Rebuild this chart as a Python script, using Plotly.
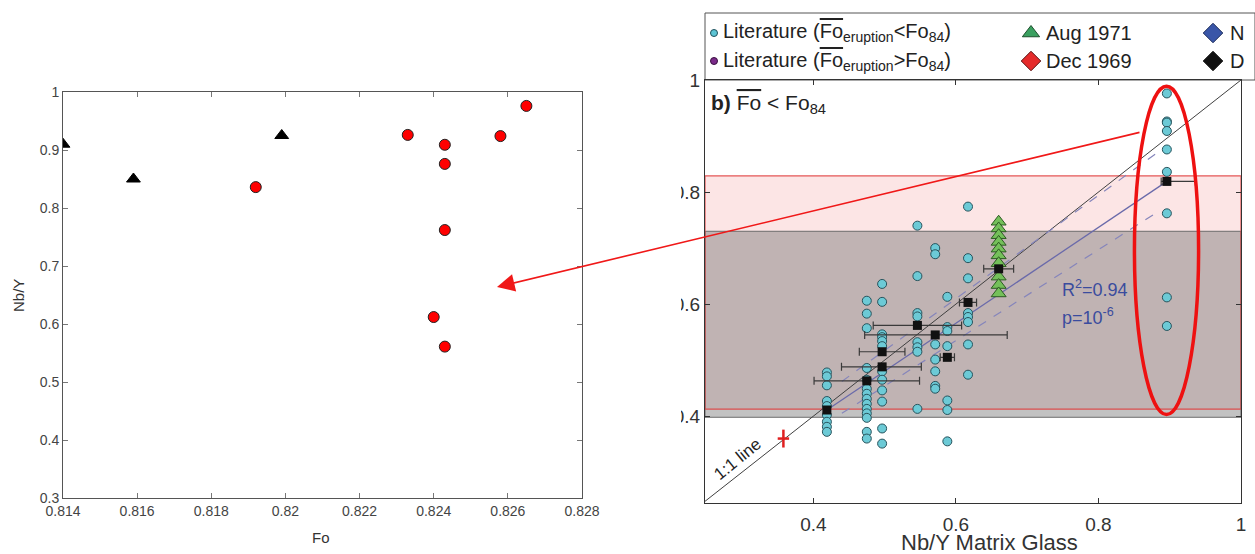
import plotly.graph_objects as go

W, H = 1255, 554
FONT = "Liberation Sans, Arial, sans-serif"

# ---------------- Left panel: Fo vs Nb/Y ----------------
tri_fo = [0.8140, 0.8159, 0.8199]
tri_nby = [0.910, 0.850, 0.925]
circ_fo = [0.8192, 0.8233, 0.8243, 0.8243, 0.8258, 0.8265, 0.8243, 0.8240, 0.8243]
circ_nby = [0.836, 0.926, 0.909, 0.876, 0.924, 0.976, 0.762, 0.612, 0.561]
left_xticks = [0.814, 0.816, 0.818, 0.820, 0.822, 0.824, 0.826, 0.828]
left_xtext = ["0.814", "0.816", "0.818", "0.82", "0.822", "0.824", "0.826", "0.828"]
left_yticks = [0.3, 0.4, 0.5, 0.6, 0.7, 0.8, 0.9, 1.0]
left_ytext = ["0.3", "0.4", "0.5", "0.6", "0.7", "0.8", "0.9", "1"]

# ---------------- Right panel: Nb/Y matrix glass ----------------
col_042 = [0.478, 0.471, 0.455, 0.427, 0.418, 0.402, 0.390, 0.381, 0.372]
col_048 = [0.606, 0.583, 0.557, 0.486, 0.465, 0.449, 0.440, 0.431, 0.422, 0.413, 0.405, 0.397, 0.372, 0.360]
col_050 = [0.636, 0.604, 0.546, 0.541, 0.534, 0.525, 0.480, 0.465, 0.446, 0.426, 0.378, 0.351]
col_055 = [0.740, 0.650, 0.584, 0.578, 0.532, 0.523, 0.515, 0.413]
col_057 = [0.700, 0.689, 0.528, 0.501, 0.480, 0.454, 0.449]
col_059 = [0.613, 0.559, 0.552, 0.525, 0.428, 0.411, 0.355]
col_062 = [0.774, 0.682, 0.646, 0.584, 0.577, 0.568, 0.528, 0.474]
col_090 = [0.976, 0.926, 0.924, 0.909, 0.876, 0.836, 0.762, 0.612, 0.561]
lit_columns = [(0.419, col_042), (0.475, col_048), (0.4965, col_050), (0.546, col_055),
               (0.571, col_057), (0.588, col_059), (0.617, col_062), (0.896, col_090)]
lit_x = [cx for cx, ys in lit_columns for _ in ys]
lit_y = [y for _, ys in lit_columns for y in ys]

aug_x = [0.660] * 10
aug_y = [0.747, 0.735, 0.723, 0.711, 0.699, 0.687, 0.673, 0.649, 0.634, 0.619]

mean_x = [0.419, 0.475, 0.4965, 0.4965, 0.546, 0.571, 0.588, 0.617, 0.660, 0.896]
mean_y = [0.411, 0.463, 0.488, 0.515, 0.562, 0.545, 0.505, 0.603, 0.663, 0.819]
mean_err_plus = [0.0, 0.074, 0.055, 0.032, 0.062, 0.101, 0.010, 0.012, 0.021, 0.040]
mean_err_minus = [0.0, 0.074, 0.057, 0.032, 0.062, 0.099, 0.010, 0.012, 0.021, 0.008]

fit_x = [0.419, 0.896]
fit_y = [0.411, 0.819]
ci_up_x = [0.44, 0.88]
ci_up_y = [0.462, 0.868]
ci_lo_x = [0.44, 0.88]
ci_lo_y = [0.405, 0.762]
one_x = [0.248, 1.0]
one_y = [0.248, 1.0]
cross_x = [0.358]
cross_y = [0.360]
cross_ex = [0.008]
cross_ey = [0.016]
pink_band = [0.4125, 0.829]
gray_band = [0.398, 0.730]
ellipse_c = (0.8955, 0.696)
ellipse_r = (0.045, 0.293)
right_xticks = [0.4, 0.6, 0.8, 1.0]
right_xtext = ["0.4", "0.6", "0.8", "1"]
right_yticks = [0.4, 0.6, 0.8, 1.0]
right_ytext = ["0.4", "0.6", "0.8", "1"]


def pxx(p):
    return p / W


def pxy(p):
    return 1 - p / H


fig = go.Figure()

# left panel traces
fig.add_trace(go.Scatter(x=tri_fo, y=tri_nby, mode="markers", xaxis="x", yaxis="y",
                         marker=dict(symbol="triangle-up", size=12, color="black",
                                     line=dict(color="black", width=1))))
fig.add_trace(go.Scatter(x=circ_fo, y=circ_nby, mode="markers", xaxis="x", yaxis="y",
                         marker=dict(symbol="circle", size=11, color="#ff0000",
                                     line=dict(color="#222", width=1))))

# right panel traces
fig.add_trace(go.Scatter(x=one_x, y=one_y, mode="lines", xaxis="x2", yaxis="y2",
                         line=dict(color="#404040", width=1)))
fig.add_trace(go.Scatter(x=ci_up_x, y=ci_up_y, mode="lines", xaxis="x2", yaxis="y2",
                         line=dict(color="#8585bb", width=1.2, dash="dash")))
fig.add_trace(go.Scatter(x=ci_lo_x, y=ci_lo_y, mode="lines", xaxis="x2", yaxis="y2",
                         line=dict(color="#8585bb", width=1.2, dash="dash")))
fig.add_trace(go.Scatter(x=fit_x, y=fit_y, mode="lines", xaxis="x2", yaxis="y2",
                         line=dict(color="#6a6aaa", width=1.3)))
fig.add_trace(go.Scatter(x=lit_x, y=lit_y, mode="markers", xaxis="x2", yaxis="y2",
                         marker=dict(symbol="circle", size=9, color="#6ccad6",
                                     line=dict(color="#27535c", width=1))))
fig.add_trace(go.Scatter(x=aug_x, y=aug_y, mode="markers", xaxis="x2", yaxis="y2",
                         marker=dict(symbol="triangle-up", size=13, color="#74c05a",
                                     line=dict(color="#2c5a22", width=1))))
fig.add_trace(go.Scatter(x=mean_x, y=mean_y, mode="markers", xaxis="x2", yaxis="y2",
                         marker=dict(symbol="square", size=9, color="#111111"),
                         error_x=dict(type="data", symmetric=False, array=mean_err_plus,
                                      arrayminus=mean_err_minus, color="#3a3a3a",
                                      thickness=1.2, width=4)))
fig.add_trace(go.Scatter(x=cross_x, y=cross_y, mode="markers", xaxis="x2", yaxis="y2",
                         marker=dict(size=1, color="#e02020"),
                         error_x=dict(type="data", array=cross_ex, color="#e02020", thickness=2.5, width=0),
                         error_y=dict(type="data", array=cross_ey, color="#e02020", thickness=2.5, width=0)))

# legend glyphs on a pixel overlay
legend_glyphs = [
    (714, 33, "circle", 7, "#5cc4d4", "#1f4f5a"),
    (714, 61, "circle", 7, "#7a2a8a", "#3a1040"),
    (1031, 33, "triangle-up", 15, "#3aa060", "#1d4f2c"),
    (1031, 61, "diamond", 15, "#e52b2b", "#5a1010"),
    (1213, 33, "diamond", 15, "#3a56a8", "#1a2a5a"),
    (1213, 61, "diamond", 15, "#111111", "#111111"),
]
for gx, gy, sym, sz, fc, lc in legend_glyphs:
    fig.add_trace(go.Scatter(x=[gx], y=[gy], mode="markers", xaxis="x3", yaxis="y3",
                             marker=dict(symbol=sym, size=sz, color=fc, line=dict(color=lc, width=1))))

shapes = [
    dict(type="rect", xref="x2 domain", yref="y2", x0=0, x1=1, y0=pink_band[0], y1=pink_band[1],
         fillcolor="#fce5e5", line=dict(width=0), layer="below"),
    dict(type="rect", xref="x2 domain", yref="y2", x0=0, x1=1, y0=gray_band[0], y1=gray_band[1],
         fillcolor="rgba(110,110,110,0.42)", line=dict(color="#6b6b6b", width=1), layer="below"),
    dict(type="rect", xref="x2 domain", yref="y2", x0=0, x1=1, y0=pink_band[0], y1=pink_band[1],
         fillcolor="rgba(0,0,0,0)", line=dict(color="rgba(225,60,60,0.85)", width=1.2), layer="below"),
    dict(type="circle", xref="x2", yref="y2",
         x0=ellipse_c[0] - ellipse_r[0], x1=ellipse_c[0] + ellipse_r[0],
         y0=ellipse_c[1] - ellipse_r[1], y1=ellipse_c[1] + ellipse_r[1],
         line=dict(color="#ee1111", width=3.5), layer="above"),
    dict(type="rect", xref="paper", yref="paper", x0=pxx(705), x1=1.0, y0=pxy(80), y1=pxy(13),
         line=dict(color="#555555", width=1), fillcolor="white", layer="below"),
    dict(type="rect", xref="paper", yref="paper", x0=pxx(612), x1=pxx(681), y0=pxy(540), y1=pxy(60),
         line=dict(width=0), fillcolor="white", layer="above"),
]

ann = []
tc = "#222222"
LF = 20
ann.append(dict(xref="paper", yref="paper", x=pxx(721), y=pxy(33), xanchor="left", yanchor="middle",
                showarrow=False, font=dict(size=LF, color=tc, family=FONT),
                text="Literature (<span style='text-decoration:overline'>Fo</span><sub>eruption</sub>&lt;Fo<sub>84</sub>)"))
ann.append(dict(xref="paper", yref="paper", x=pxx(721), y=pxy(61), xanchor="left", yanchor="middle",
                showarrow=False, font=dict(size=LF, color=tc, family=FONT),
                text="Literature (<span style='text-decoration:overline'>Fo</span><sub>eruption</sub>&gt;Fo<sub>84</sub>)"))
ann.append(dict(xref="paper", yref="paper", x=pxx(1044), y=pxy(33), xanchor="left", yanchor="middle",
                showarrow=False, font=dict(size=LF, color=tc, family=FONT), text="Aug 1971"))
ann.append(dict(xref="paper", yref="paper", x=pxx(1044), y=pxy(61), xanchor="left", yanchor="middle",
                showarrow=False, font=dict(size=LF, color=tc, family=FONT), text="Dec 1969"))
ann.append(dict(xref="paper", yref="paper", x=pxx(1228), y=pxy(33), xanchor="left", yanchor="middle",
                showarrow=False, font=dict(size=LF, color=tc, family=FONT), text="N"))
ann.append(dict(xref="paper", yref="paper", x=pxx(1228), y=pxy(61), xanchor="left", yanchor="middle",
                showarrow=False, font=dict(size=LF, color=tc, family=FONT), text="D"))
ann.append(dict(xref="paper", yref="paper", x=pxx(709), y=pxy(104), xanchor="left", yanchor="middle",
                showarrow=False, font=dict(size=21, color=tc, family=FONT),
                text="<b>b)</b> <span style='text-decoration:overline'>Fo</span> &lt; Fo<sub>84</sub>"))
ann.append(dict(xref="paper", yref="paper", x=pxx(1060), y=pxy(288), xanchor="left", yanchor="middle",
                showarrow=False, font=dict(size=18, color="#3a4c9e", family=FONT), text="R<sup>2</sup>=0.94"))
ann.append(dict(xref="paper", yref="paper", x=pxx(1060), y=pxy(316), xanchor="left", yanchor="middle",
                showarrow=False, font=dict(size=18, color="#3a4c9e", family=FONT), text="p=10<sup>-6</sup>"))
ann.append(dict(xref="paper", yref="paper", x=pxx(737), y=pxy(459), xanchor="center", yanchor="middle",
                showarrow=False, textangle=-39, font=dict(size=17, color=tc, family=FONT), text="1:1 line"))
ann.append(dict(xref="paper", yref="paper", x=pxx(989), y=pxy(542), xanchor="center", yanchor="middle",
                showarrow=False, font=dict(size=22, color="#333333", family=FONT), text="Nb/Y Matrix Glass"))
ann.append(dict(xref="paper", yref="paper", x=pxx(321), y=pxy(537), xanchor="center", yanchor="middle",
                showarrow=False, font=dict(size=15, color="#333333", family=FONT), text="Fo"))
ann.append(dict(xref="paper", yref="paper", x=pxx(18), y=pxy(296), xanchor="center", yanchor="middle",
                showarrow=False, textangle=-90, font=dict(size=15, color="#333333", family=FONT), text="Nb/Y"))
ann.append(dict(xref="paper", yref="paper", x=pxx(497), y=pxy(287), ax=1141 - 497, ay=132 - 287,
                text="", showarrow=True, arrowhead=2, arrowsize=2.2, arrowwidth=1.6,
                arrowcolor="#f01818", standoff=0))

axis_left = dict(showgrid=False, zeroline=False, showline=True, linecolor="#555555", linewidth=1,
                 mirror="ticks", ticks="inside", ticklen=5, tickcolor="#777777",
                 tickfont=dict(size=14, color="#444444", family=FONT))
axis_right = dict(showgrid=False, zeroline=False, showline=True, linecolor="#333333", linewidth=1,
                  mirror="ticks", ticks="inside", ticklen=5, tickcolor="#333333",
                  tickfont=dict(size=19, color="#333333", family=FONT))

fig.update_layout(
    width=W, height=H, margin=dict(l=0, r=0, t=0, b=0, pad=0, autoexpand=False),
    paper_bgcolor="white", plot_bgcolor="rgba(0,0,0,0)", showlegend=False,
    font=dict(family=FONT),
    xaxis=dict(axis_left, domain=[pxx(63), pxx(582)], range=[0.814, 0.828],
               tickvals=left_xticks, ticktext=left_xtext, anchor="y"),
    yaxis=dict(axis_left, domain=[pxy(498), pxy(92)], range=[0.3, 1.0],
               tickvals=left_yticks, ticktext=left_ytext, anchor="x"),
    xaxis2=dict(axis_right, domain=[pxx(705), pxx(1241)], range=[0.248, 1.0],
                tickvals=right_xticks, ticktext=right_xtext, anchor="y2", ticklabelstandoff=4),
    yaxis2=dict(axis_right, domain=[pxy(503), pxy(80)], range=[0.245, 1.0],
                tickvals=right_yticks, ticktext=right_ytext, anchor="x2"),
    xaxis3=dict(domain=[0, 1], range=[0, W], visible=False, anchor="y3", automargin=False),
    yaxis3=dict(domain=[0, 1], range=[H, 0], visible=False, anchor="x3", automargin=False),
    shapes=shapes, annotations=ann,
)

fig.write_html("out.html")
